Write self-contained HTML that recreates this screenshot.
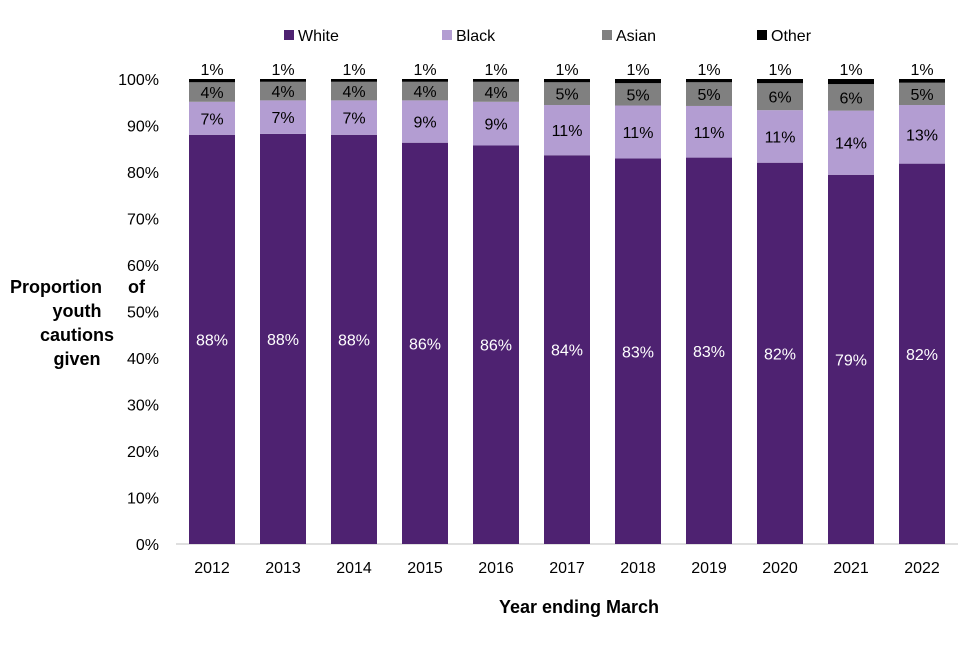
<!DOCTYPE html>
<html><head><meta charset="utf-8"><style>
body{margin:0;background:#fff;font-family:"Liberation Sans",Arial,sans-serif}
svg text{font-family:"Liberation Sans",Arial,sans-serif}
</style></head><body>
<svg id="chart" width="960" height="640"></svg>
<script>
const categories=["2012","2013","2014","2015","2016","2017","2018","2019","2020","2021","2022"];
const white=[88.0,88.2,88.0,86.3,85.7,83.6,82.9,83.1,82.0,79.4,81.8];
const black=[7.1,7.2,7.4,9.1,9.4,10.8,11.4,11.1,11.3,13.8,12.6];
const asian=[4.2,4.0,4.0,4.0,4.3,4.9,4.8,5.1,5.8,5.7,4.8];
const other=[0.7,0.6,0.6,0.6,0.6,0.7,0.9,0.7,0.9,1.1,0.8];
const whiteLabels=["88%","88%","88%","86%","86%","84%","83%","83%","82%","79%","82%"];
const blackLabels=["7%","7%","7%","9%","9%","11%","11%","11%","11%","14%","13%"];
const asianLabels=["4%","4%","4%","4%","4%","5%","5%","5%","6%","6%","5%"];
const otherLabels=["1%","1%","1%","1%","1%","1%","1%","1%","1%","1%","1%"];
const yTicks=[0,10,20,30,40,50,60,70,80,90,100];
const seriesNames=["White","Black","Asian","Other"];
const colors=["#4e2271","#b39dd2","#808080","#000000"];
const NS="http://www.w3.org/2000/svg";
const svg=document.getElementById('chart');
const y0=544,y1=79,xl=176,xr=958;
const y=v=>y0-(v/100)*(y0-y1);
const x=i=>212+i*71;
const bw=46;
function mk(t,a){const e=document.createElementNS(NS,t);for(const k in a)e.setAttribute(k,a[k]);svg.appendChild(e);return e;}
function txt(s,a){const e=mk('text',a);e.textContent=s;return e;}
let ax=mk('line',{x1:xl,y1:y0,x2:xr,y2:y0,stroke:'#bfbfbf'});

yTicks.forEach(t=>{
 const e=txt(t+'%',{x:159,y:y(t)+6,'text-anchor':'end','font-size':16,fill:'#000'});
 
});
const series=[white,black,asian,other];
const labels=[whiteLabels,blackLabels,asianLabels,otherLabels];
categories.forEach((c,i)=>{
 let base=0;
 series.forEach((s,k)=>{
  const top=base+s[i];
  const r=mk('rect',{x:x(i)-bw/2,y:y(top),width:bw,height:y(base)-y(top),fill:colors[k]});
  
  
  let ly,fill;
  if(k==3){ly=y(100)-4;fill='#000';}
  else{ly=(y(base)+y(top))/2+6;fill=k==0?'#fff':'#000';}
  const l=txt(labels[k][i],{x:x(i),y:ly,'text-anchor':'middle','font-size':16,fill:fill});
  
  base=top;
 });
 const t=txt(c,{x:x(i),y:573,'text-anchor':'middle','font-size':16,fill:'#000'});
 
});
const lx=[289,447,607,762];
seriesNames.forEach((n,k)=>{
 const r=mk('rect',{x:lx[k]-5,y:30,width:10,height:10,fill:colors[k]});
 
 const t=txt(n,{x:lx[k]+9,y:41,'font-size':16,fill:'#000'});
 
});
const p1=txt("Proportion",{x:10,y:293,'font-size':18,'font-weight':'bold',fill:'#000'});

const p2=txt("of",{x:145,y:293,'text-anchor':'end','font-size':18,'font-weight':'bold',fill:'#000'});

["youth","cautions","given"].forEach((s,j)=>{
 const t=txt(s,{x:77,y:317+j*24,'text-anchor':'middle','font-size':18,'font-weight':'bold',fill:'#000'});
 
});
const xt=txt("Year ending March",{x:579,y:613,'text-anchor':'middle','font-size':18,'font-weight':'bold',fill:'#000'});

</script>
</body></html>
